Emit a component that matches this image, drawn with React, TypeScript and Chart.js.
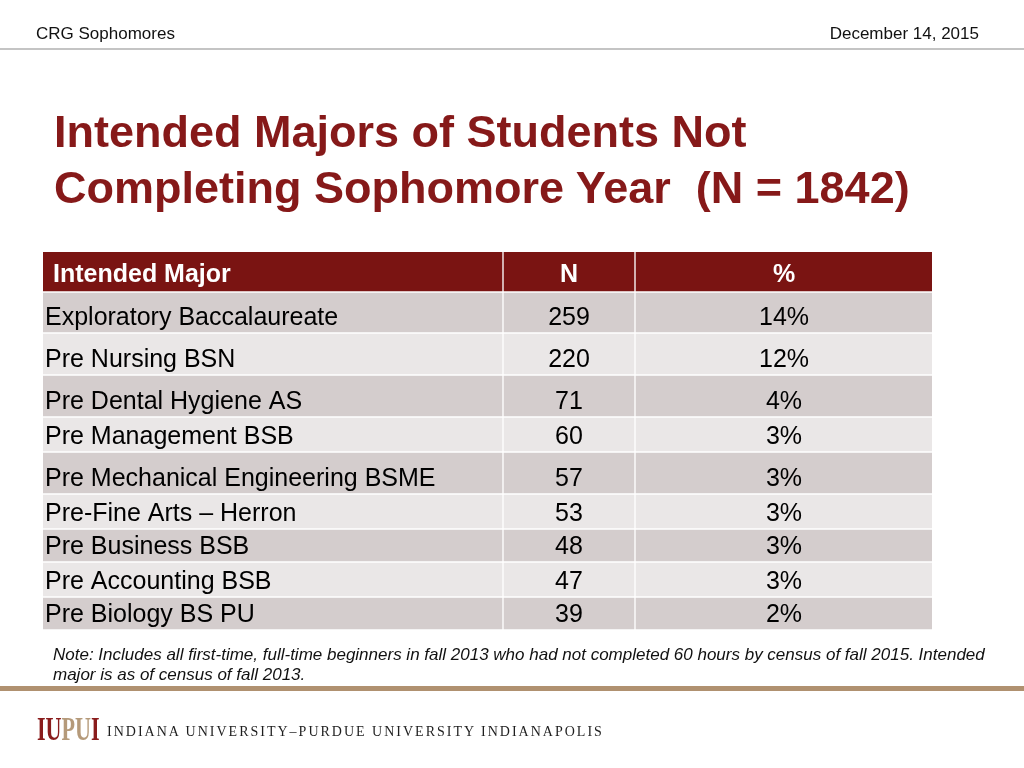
import React, { useEffect, useRef } from "react";
import { Chart, registerables } from "chart.js";

Chart.register(...registerables);

// ---- data ----
const HEADERS = ["Intended Major", "N", "%"];
const MAJORS = [
  "Exploratory Baccalaureate",
  "Pre Nursing BSN",
  "Pre Dental Hygiene AS",
  "Pre Management BSB",
  "Pre Mechanical Engineering BSME",
  "Pre-Fine Arts \u2013 Herron",
  "Pre Business BSB",
  "Pre Accounting BSB",
  "Pre Biology BS PU",
];
const COUNTS = [259, 220, 71, 60, 57, 53, 48, 47, 39];
const PERCENTS = ["14%", "12%", "4%", "3%", "3%", "3%", "3%", "3%", "2%"];

const TITLE_LINES = ["Intended Majors of Students Not", "Completing Sophomore Year  (N = 1842)"];
const HEADER_LEFT = "CRG Sophomores";
const HEADER_RIGHT = "December 14, 2015";
const NOTE_LINES = [
  "Note: Includes all first-time, full-time beginners in fall 2013 who had not completed 60 hours by census of fall 2015. Intended",
  "major is as of census of fall 2013.",
];
const LOGO_CAPTION = "INDIANA UNIVERSITY\u2013PURDUE UNIVERSITY INDIANAPOLIS";

// ---- layout (sizes, not data) ----
const COL_WIDTHS = [461, 132, 296];
const ROW_HEIGHTS = [41, 41, 42, 42, 35, 42, 35, 33, 35, 33];
const GAP = 2;
const HEADER_BG = "#7a1412";
const DARK_ROW = "#d4cdcd";
const LIGHT_ROW = "#eae7e7";
const FONT = "'Liberation Sans', Arial, Helvetica, sans-serif";

const TABLE_ROWS: string[][] = [
  HEADERS,
  ...MAJORS.map((m, i) => [m, String(COUNTS[i]), PERCENTS[i]]),
];

const cellTextPlugin = {
  id: "cellText",
  afterDatasetsDraw(chart: any) {
    const ctx = chart.ctx;
    chart.data.datasets.forEach((_ds: any, r: number) => {
      const meta = chart.getDatasetMeta(r);
      meta.data.forEach((el: any, c: number) => {
        const p = el.getProps(["x", "y", "base", "height"], true);
        const left = Math.min(p.x, p.base);
        const right = Math.max(p.x, p.base);
        const bottom = p.y + p.height / 2;
        const text = TABLE_ROWS[r][c];
        ctx.save();
        ctx.font = (r === 0 ? "bold " : "") + "25px " + FONT;
        ctx.fillStyle = r === 0 ? "#ffffff" : "#000000";
        ctx.textBaseline = "alphabetic";
        const by = bottom - (r === 0 ? 9 : 7);
        if (c === 0) {
          ctx.textAlign = "left";
          ctx.fillText(text, left + (r === 0 ? 10 : 2), by);
        } else {
          ctx.textAlign = "center";
          ctx.fillText(text, (left + right) / 2, by);
        }
        ctx.restore();
      });
    });
  },
};

function buildDatasets() {
  const colEdges: [number, number][] = [];
  let cx = 0;
  COL_WIDTHS.forEach((w, i) => {
    colEdges.push([cx, cx + w - (i < COL_WIDTHS.length - 1 ? GAP : 0)]);
    cx += w;
  });
  let top = 0;
  return TABLE_ROWS.map((row, r) => {
    const h = ROW_HEIGHTS[r];
    const center = top + (h - GAP) / 2;
    top += h;
    return {
      label: row[0],
      data: colEdges.map(([a, b]) => ({ x: [a, b], y: center })),
      barThickness: h - GAP,
      grouped: false,
      borderWidth: 0,
      borderSkipped: false,
      backgroundColor: r === 0 ? HEADER_BG : r % 2 === 1 ? DARK_ROW : LIGHT_ROW,
    };
  });
}

const xMax = COL_WIDTHS.reduce((a, b) => a + b, 0);
const yMax = ROW_HEIGHTS.reduce((a, b) => a + b, 0);

function TableChart() {
  const ref = useRef<HTMLCanvasElement | null>(null);
  useEffect(() => {
    if (!ref.current) return;
    const chart = new Chart(ref.current, {
      type: "bar",
      data: { datasets: buildDatasets() as any },
      options: {
        indexAxis: "y",
        animation: false,
        responsive: false,
        devicePixelRatio: 1,
        layout: { padding: { left: 43, top: 252, right: 1024 - 43 - xMax, bottom: 768 - 252 - yMax } },
        plugins: { legend: { display: false }, tooltip: { enabled: false } },
        scales: {
          x: { type: "linear", min: 0, max: xMax, display: false, offset: false },
          y: { type: "linear", min: 0, max: yMax, reverse: true, display: false, offset: false },
        },
      } as any,
      plugins: [cellTextPlugin],
    });
    return () => chart.destroy();
  }, []);
  return (
    <canvas
      ref={ref}
      width={1024}
      height={768}
      style={{ position: "absolute", left: 0, top: 0, width: 1024, height: 768 }}
    />
  );
}

export default function App() {
  useEffect(() => {
    document.body.style.margin = "0";
  }, []);
  const abs: React.CSSProperties = { position: "absolute", whiteSpace: "pre", lineHeight: 1 };
  return (
    <div style={{ position: "relative", width: 1024, height: 768, overflow: "hidden", background: "#fff", fontFamily: FONT }}>
      <TableChart />
      <div style={{ ...abs, left: 36, top: 25, fontSize: 17, color: "#111" }}>{HEADER_LEFT}</div>
      <div style={{ ...abs, right: 1024 - 979, top: 25, fontSize: 17, color: "#111" }}>{HEADER_RIGHT}</div>
      <div style={{ position: "absolute", left: 0, top: 48, width: 1024, height: 2, background: "#c4c4c4" }} />
      {TITLE_LINES.map((t, i) => (
        <div key={i} style={{ ...abs, left: 54, top: 109 + i * 56, fontSize: 45, fontWeight: "bold", color: "#861919" }}>
          {t}
        </div>
      ))}
      {NOTE_LINES.map((t, i) => (
        <div key={i} style={{ ...abs, left: 53, top: 646 + i * 20, fontSize: 17, fontStyle: "italic", color: "#111" }}>
          {t}
        </div>
      ))}
      <div style={{ position: "absolute", left: 0, top: 686, width: 1024, height: 5, background: "#b09170" }} />
      <div
        style={{
          ...abs,
          left: 37,
          top: 713,
          fontSize: 33,
          fontWeight: "bold",
          fontFamily: "'Liberation Serif', 'Times New Roman', serif",
          transform: "scaleX(0.67)",
          transformOrigin: "left top",
        }}
      >
        <span style={{ color: "#8a1c1c" }}>IU</span>
        <span style={{ color: "#b59a7a" }}>PU</span>
        <span style={{ color: "#8a1c1c" }}>I</span>
      </div>
      <div
        style={{
          ...abs,
          left: 107,
          top: 725,
          fontSize: 14,
          letterSpacing: 2,
          fontFamily: "'Liberation Serif', 'Times New Roman', serif",
          color: "#1e1e1e",
        }}
      >
        {LOGO_CAPTION}
      </div>
    </div>
  );
}
